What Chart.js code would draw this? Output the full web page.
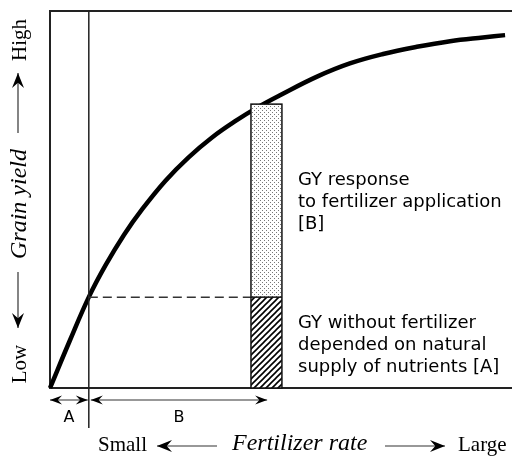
<!DOCTYPE html>
<html lang="en">
<head>
  <meta charset="UTF-8">
  <title>Grain yield vs fertilizer rate</title>
  <script src="https://cdn.jsdelivr.net/npm/chart.js"></script>
  <style>
    body { margin: 0; background: #fff; }
    #wrap { width: 512px; height: 456px; }
  </style>
</head>
<body>
  <div id="wrap"><canvas id="chart" width="512" height="456"></canvas></div>

  <script>
    // response curve (x: fertilizer rate, y: grain yield, both 0-100)
    const fertilizerRate = [0, 4.3, 8.4, 12, 16, 20, 25, 30, 35, 40, 45, 50, 57.8, 64.9, 72.1, 79.4, 86.6, 93.7, 98.5];
    const grainYield = [0, 12.6, 24.1, 32.5, 40.6, 47.5, 55.0, 61.2, 66.4, 70.7, 74.5, 77.8, 82.6, 86.1, 88.6, 90.5, 92.0, 93.0, 93.6];

    // split between A (natural supply) and B (fertilizer) on the x axis
    const splitRate = 8.4;
    const spanEnds = [0, 8.4, 47.0];
    const spanLabels = ["A", "B"];

    // stacked bar: natural yield [A] and response to fertilizer [B]
    const barRange = [43.5, 50.2];
    const yieldNatural = 24.1;
    const yieldFertilized = 75.3;

    const noteResponse = ["GY response", "to fertilizer application", "[B]"];
    const noteNatural = ["GY without fertilizer", "depended on natural", "supply of nutrients [A]"];
    const xTitle = ["Small", "Fertilizer rate", "Large"];
    const yTitle = ["Low", "Grain yield", "High"];

    const serif = '"Liberation Serif", "Times New Roman", serif';
    const sans = '"DejaVu Sans", sans-serif';

    function toPoints(xs, ys) {
      return xs.map((x, i) => ({ x: x, y: ys[i] }));
    }

    function arrowHead(ctx, x, y, angle, len, half) {
      ctx.save();
      ctx.translate(x, y);
      ctx.rotate(angle);
      ctx.beginPath();
      ctx.moveTo(0, 0);
      ctx.lineTo(-len, -half);
      ctx.lineTo(-len * 0.65, 0);
      ctx.lineTo(-len, half);
      ctx.closePath();
      ctx.fill();
      ctx.restore();
    }

    // line with arrowhead(s); heads = "end", "start" or "both"
    function arrow(ctx, x1, y1, x2, y2, heads, len, half) {
      const ang = Math.atan2(y2 - y1, x2 - x1);
      ctx.beginPath();
      ctx.moveTo(x1, y1);
      ctx.lineTo(x2, y2);
      ctx.stroke();
      if (heads === "end" || heads === "both") arrowHead(ctx, x2, y2, ang, len, half);
      if (heads === "start" || heads === "both") arrowHead(ctx, x1, y1, ang + Math.PI, len, half);
    }

    function stipplePattern(ctx) {
      const c = document.createElement("canvas");
      c.width = 4; c.height = 4;
      const g = c.getContext("2d");
      g.fillStyle = "#fff";
      g.fillRect(0, 0, 4, 4);
      g.fillStyle = "#777";
      g.fillRect(0, 0, 1, 1);
      g.fillRect(2, 2, 1, 1);
      return ctx.createPattern(c, "repeat");
    }

    function hatchPattern(ctx) {
      const s = 6;
      const c = document.createElement("canvas");
      c.width = s; c.height = s;
      const g = c.getContext("2d");
      g.fillStyle = "#fff";
      g.fillRect(0, 0, s, s);
      g.strokeStyle = "#000";
      g.lineWidth = 1.6;
      g.beginPath();
      g.moveTo(0, s); g.lineTo(s, 0);
      g.moveTo(-1, 1); g.lineTo(1, -1);
      g.moveTo(s - 1, s + 1); g.lineTo(s + 1, s - 1);
      g.stroke();
      return ctx.createPattern(c, "repeat");
    }

    const framePlugin = {
      id: "frame",
      beforeDatasetsDraw(chart) {
        const { ctx, chartArea: a } = chart;
        ctx.save();
        ctx.strokeStyle = "#222";
        ctx.lineWidth = 2;
        ctx.beginPath();
        ctx.moveTo(a.right, a.top);
        ctx.lineTo(a.left, a.top);
        ctx.lineTo(a.left, a.bottom);
        ctx.lineTo(a.right, a.bottom);
        ctx.stroke();
        ctx.restore();
      },
      afterDatasetsDraw(chart) {
        const { ctx, chartArea: a } = chart;
        const xs = chart.scales.x, ys = chart.scales.y;
        ctx.save();

        // stacked bar
        const bl = xs.getPixelForValue(barRange[0]);
        const br = xs.getPixelForValue(barRange[1]);
        const yBase = ys.getPixelForValue(0);
        const yMid = ys.getPixelForValue(yieldNatural);
        const yTop = ys.getPixelForValue(yieldFertilized);
        ctx.fillStyle = stipplePattern(ctx);
        ctx.fillRect(bl, yTop, br - bl, yMid - yTop);
        ctx.fillStyle = hatchPattern(ctx);
        ctx.fillRect(bl, yMid, br - bl, yBase - yMid);
        ctx.strokeStyle = "#111";
        ctx.lineWidth = 1.5;
        ctx.strokeRect(bl, yTop, br - bl, yBase - yTop);
        ctx.beginPath();
        ctx.moveTo(bl, yMid);
        ctx.lineTo(br, yMid);
        ctx.stroke();

        // notes beside the bar
        ctx.fillStyle = "#000";
        ctx.font = "18px " + sans;
        ctx.textAlign = "left";
        ctx.textBaseline = "middle";
        noteResponse.forEach((t, i) => ctx.fillText(t, 298, 180 + i * 22));
        noteNatural.forEach((t, i) => ctx.fillText(t, 298, 323 + i * 22));

        // A / B spans under the axis
        ctx.strokeStyle = "#333";
        ctx.fillStyle = "#000";
        ctx.lineWidth = 1.2;
        const ay = a.bottom + 12;
        for (let i = 0; i < spanLabels.length; i++) {
          const x1 = xs.getPixelForValue(spanEnds[i]) + (i > 0 ? 2 : 0);
          const x2 = xs.getPixelForValue(spanEnds[i + 1]) - (i === 0 ? 1 : 0);
          arrow(ctx, x1, ay, x2, ay, "both", 12, 4.5);
          ctx.font = "16px " + sans;
          ctx.textAlign = "center";
          ctx.fillText(spanLabels[i], (x1 + x2) / 2, a.bottom + 30);
        }

        // x axis title
        const ty = 445;
        ctx.textAlign = "left";
        ctx.font = "21px " + serif;
        ctx.fillText(xTitle[0], 98, ty);
        arrow(ctx, 217, ty + 1, 157, ty + 1, "end", 15, 6);
        ctx.font = "italic 24px " + serif;
        ctx.fillText(xTitle[1], 232, ty - 1);
        arrow(ctx, 385, ty + 1, 445, ty + 1, "end", 15, 6);
        ctx.font = "21px " + serif;
        ctx.fillText(xTitle[2], 458, ty);

        // y axis title (rotated)
        const tx = 20;
        ctx.textAlign = "center";
        const rot = (txt, y, font) => {
          ctx.save();
          ctx.translate(tx, y);
          ctx.rotate(-Math.PI / 2);
          ctx.font = font;
          ctx.fillText(txt, 0, 0);
          ctx.restore();
        };
        rot(yTitle[0], 364, "21px " + serif);
        arrow(ctx, tx - 2, 272, tx - 2, 328, "end", 15, 6);
        rot(yTitle[1], 204, "italic 24px " + serif);
        arrow(ctx, tx - 2, 133, tx - 2, 73, "end", 15, 6);
        rot(yTitle[2], 40, "21px " + serif);

        ctx.restore();
      }
    };

    new Chart(document.getElementById("chart"), {
      type: "scatter",
      data: {
        datasets: [
          {
            label: "divider",
            data: [{ x: splitRate, y: 100 }, { x: splitRate, y: -10.6 }],
            showLine: true,
            borderColor: "#222",
            borderWidth: 1.5,
            pointRadius: 0,
            clip: false
          },
          {
            label: "natural level",
            data: [{ x: splitRate, y: yieldNatural }, { x: barRange[0], y: yieldNatural }],
            showLine: true,
            borderColor: "#333",
            borderWidth: 1.5,
            borderDash: [9, 5],
            pointRadius: 0,
            clip: false
          },
          {
            label: "Grain yield",
            data: toPoints(fertilizerRate, grainYield),
            showLine: true,
            borderColor: "#000",
            borderWidth: 4.5,
            tension: 0.4,
            pointRadius: 0,
            clip: false
          }
        ]
      },
      options: {
        responsive: false,
        animation: false,
        layout: { padding: { left: 50, top: 11, right: 0, bottom: 68 } },
        plugins: { legend: { display: false }, tooltip: { enabled: false } },
        scales: {
          x: { type: "linear", min: 0, max: 100, display: false },
          y: { type: "linear", min: 0, max: 100, display: false }
        }
      },
      plugins: [framePlugin]
    });
  </script>
</body>
</html>
